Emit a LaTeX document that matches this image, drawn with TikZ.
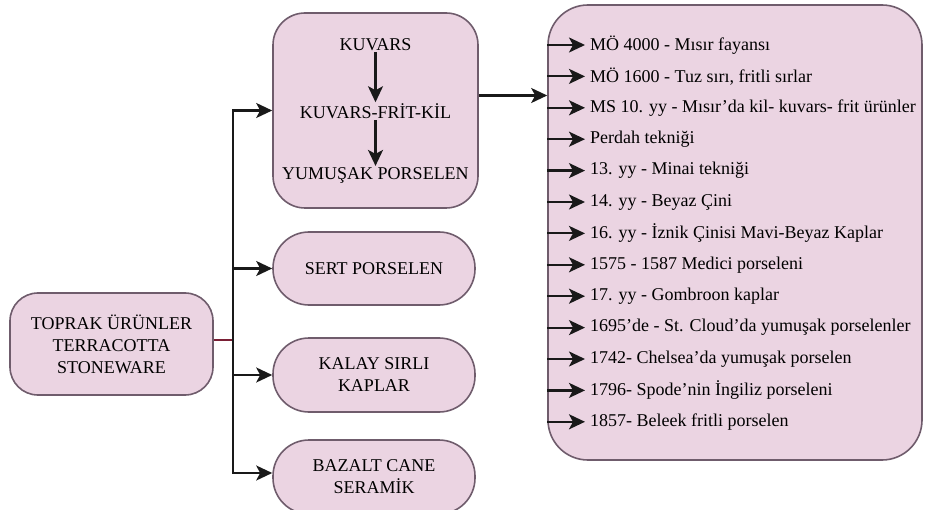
\documentclass[tikz,border=0pt]{standalone}
\usepackage{fontspec}
\setmainfont{Liberation Serif}
\usetikzlibrary{arrows.meta,calc}
\definecolor{boxfill}{HTML}{EBD4E2}
\definecolor{boxline}{HTML}{6F5C6C}
\definecolor{linkred}{HTML}{7A1F35}
\tikzset{
  box/.style={draw=boxline, fill=boxfill, line width=1.6pt, align=center,
    font=\fontsize{18}{22}\selectfont, inner sep=0pt},
  arr/.style={line width=2.2pt, draw=black!90, -{Stealth[length=16pt,width=15pt,inset=4pt]}},
  plain/.style={line width=2.2pt, draw=black!90},
  item/.style={anchor=west, font=\fontsize{18}{22}\selectfont, inner sep=0pt},
  lbl/.style={font=\fontsize{18}{22}\selectfont, inner sep=1pt}
}
\begin{document}
\begin{tikzpicture}[x=1pt,y=-1pt]
\useasboundingbox (0,0) rectangle (925,510);
% left box
\node[box, minimum width=203pt, minimum height=102pt, rounded corners=28pt] (left) at (111.5,344) {TOPRAK ÜRÜNLER\\TERRACOTTA\\STONEWARE};
% top box
\node[box, minimum width=205pt, minimum height=195pt, rounded corners=32pt] (top) at (375.5,110.5) {};
\node[lbl] (k1) at (375.5,45) {KUVARS};
\node[lbl] (k2) at (375.5,111) {KUVARS-FRİT-KİL};
\node[lbl] (k3) at (375.5,175) {YUMUŞAK PORSELEN};
\draw[arr] (k1) -- (k2);
\draw[arr] (k2) -- (k3);
% pill boxes
\node[box, minimum width=202pt, minimum height=73pt, rounded corners=36pt] (sert) at (374,268.5) {SERT PORSELEN};
\node[box, minimum width=202pt, minimum height=74pt, rounded corners=36pt] (kalay) at (374,375) {KALAY SIRLI\\KAPLAR};
\node[box, minimum width=202pt, minimum height=74pt, rounded corners=36pt] (bazalt) at (374,477) {BAZALT CANE\\SERAMİK};
% big box
\node[box, minimum width=374pt, minimum height=455pt, rounded corners=40pt] (big) at (735,232.5) {};
% trunk
\coordinate (j) at (233,340);
\draw[plain, draw=linkred] (left.east |- j) -- (j);
\draw[arr] (j) |- (top.west);
\draw[arr] (j) |- (sert.west);
\draw[arr] (j) |- (kalay.west);
\draw[arr] (j) |- ($(bazalt.west)+(0,-4)$);
% top to big
\draw[arr] ($(top.east)+(0,-15)$) -- ($(top.east -| big.west)+(0,-15)$);
% items
\foreach \i/\t in {0/{MÖ 4000 - Mısır fayansı},
  1/{MÖ 1600 - Tuz sırı, fritli sırlar},
  2/{MS 10. yy - Mısır’da kil- kuvars- frit ürünler},
  3/{Perdah tekniği},
  4/{13. yy - Minai tekniği},
  5/{14. yy - Beyaz Çini},
  6/{16. yy - İznik Çinisi Mavi-Beyaz Kaplar},
  7/{1575 - 1587 Medici porseleni},
  8/{17. yy - Gombroon kaplar},
  9/{1695’de - St. Cloud’da yumuşak porselenler},
  10/{1742- Chelsea’da yumuşak porselen},
  11/{1796- Spode’nin İngiliz porseleni},
  12/{1857- Beleek fritli porselen}}{
  \node[item] (it\i) at (590,{45+31.4*\i}) {\t};
  \draw[arr] (it\i.west -| big.west) -- ([xshift=-5pt]it\i.west);
}
\end{tikzpicture}
\end{document}
